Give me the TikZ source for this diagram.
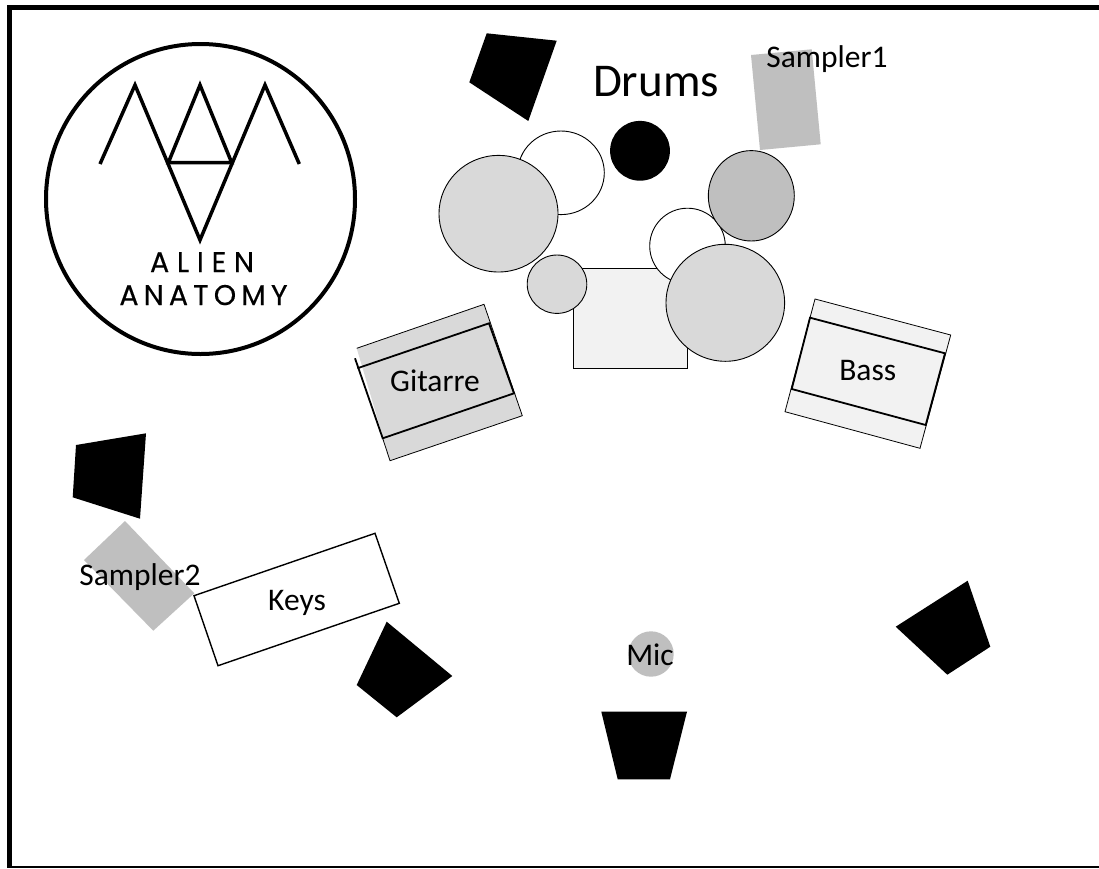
\documentclass[tikz,border=0pt]{standalone}
\usepackage{fontspec}
\setmainfont{Carlito}
\newfontfamily\logofont[LetterSpace=18,FakeBold=0.4]{Poppins}
\newfontfamily\logofontwide[LetterSpace=27,FakeBold=0.4]{Poppins}
\definecolor{lightfill}{HTML}{F2F2F2}
\definecolor{midfill}{HTML}{D9D9D9}
\definecolor{darkfill}{HTML}{BFBFBF}
\tikzset{
  speaker/.style={fill=black,draw=none},
  sampler/.style={fill=darkfill,draw=none},
  drum/.style={draw=black,line width=0.9pt},
  thinedge/.style={draw=black,line width=0.8pt},
  thickedge/.style={draw=black,line width=1.8pt,line join=miter},
  logoline/.style={draw=black,line width=3.5pt,line join=miter,line cap=butt},
  label/.style={inner sep=0pt,anchor=base,font=\fontsize{31.5}{37}\selectfont},
  biglabel/.style={inner sep=0pt,anchor=base,font=\fontsize{47}{55}\selectfont},
  logotext/.style={inner sep=0pt,anchor=base,font=\logofont\fontsize{28.5}{32}\selectfont},
  logotextwide/.style={inner sep=0pt,anchor=base,font=\logofontwide\fontsize{28.5}{32}\selectfont}
}
\begin{document}
\begin{tikzpicture}[x=1pt,y=-1pt]
\useasboundingbox (0,0) rectangle (1099,868);
\fill[white] (0,0) rectangle (1099,868);
% frame
\fill[black] (7,4.5) rectangle (1099,9.5);
\fill[black] (7,4.5) rectangle (12,868);
\fill[black] (7,866.3) rectangle (1099,868);
% logo
\draw[draw=black,line width=4pt] (200.5,199) ellipse [x radius=154.5,y radius=155];
\draw[logoline] (100,164) -- (135,85) -- (200,240) -- (265,85) -- (299.3,164);
\draw[logoline] (168.3,162.7) -- (200,85) -- (231.7,162.7) -- cycle;
\node[logotextwide] (alien) at (202,272) {ALIEN};
\node[logotext] (anatomy) at (203.5,305) {ANATOMY};
% speakers
\fill[speaker] (486.7,33.3) -- (556.7,40.7) -- (528.3,121) -- (469.3,82.3) -- cycle;
\fill[speaker] (76,445) -- (146,433.3) -- (140,518.7) -- (72.7,497.3) -- cycle;
\fill[speaker] (386.7,621.7) -- (452.3,676) -- (396.7,717.3) -- (356.7,685) -- cycle;
\fill[speaker] (601.3,711.7) -- (687,711.7) -- (670,779.3) -- (617.7,779.3) -- cycle;
\fill[speaker] (967.7,580.7) -- (990.3,646.7) -- (947.3,674.7) -- (895.7,626.7) -- cycle;
% samplers and mic
\fill[sampler] (751,55) -- (811.7,49.3) -- (820.7,144.3) -- (760,150) -- cycle;
\fill[sampler] (125,521) -- (194.3,593.3) -- (153.3,630.7) -- (84,560) -- cycle;
\fill[sampler] (651,654) circle (22.7);
% drums
\filldraw[drum,fill=white] (561,172.8) ellipse [x radius=43.3,y radius=41.8];
\filldraw[drum,fill=midfill] (498.5,213.7) ellipse [x radius=59.5,y radius=58.3];
\fill[black] (640,150.8) circle (29.9);
\filldraw[drum,fill=lightfill] (573.3,268.3) rectangle (687,368.7);
\filldraw[drum,fill=midfill] (557,284.2) ellipse [x radius=29.8,y radius=29.2];
\filldraw[drum,fill=white] (687.5,246) ellipse [x radius=37.8,y radius=37.8];
\filldraw[drum,fill=darkfill] (751.3,195.8) ellipse [x radius=43,y radius=45.2];
\filldraw[drum,fill=midfill] (725.3,302.8) ellipse [x radius=59.3,y radius=58.5];
% guitar amp
\fill[midfill] (356.7,348.3) -- (484,304.3) -- (522.3,415.7) -- (390,460.7) -- cycle;
\draw[thinedge] (356.7,348.3) -- (484,304.3) -- (522.3,415.7) -- (390,460.7) -- (382.7,438.3);
\draw[thickedge] (355,358.3) -- (382.7,438.3) -- (514,393.3) -- (489,323.3) -- (357.3,368.3);
% bass amp
\fill[lightfill] (815,299) -- (950.7,335) -- (920,448.3) -- (785,411.7) -- cycle;
\draw[thinedge] (815,299) -- (950.7,335) -- (920,448.3) -- (785,411.7) -- cycle;
\draw[thickedge] (810,317.7) -- (945,353.3) -- (925.7,425) -- (791.7,389) -- cycle;
% keys
\filldraw[draw=black,line width=1.4pt,fill=white] (375,533.3) -- (399.3,603.3) -- (218,665.7) -- (194,595.7) -- cycle;
% labels
\node[biglabel] (drums) at (656,96.7) {Drums};
\node[label] (sampler1) at (827,67) {Sampler1};
\node[label] (gitarre) at (435,391) {Gitarre};
\node[label] (bass) at (867.7,380) {Bass};
\node[label] (sampler2) at (140,585) {Sampler2};
\node[label] (keys) at (297,610) {Keys};
\node[label] (mic) at (650,665) {Mic};
\end{tikzpicture}
\end{document}
